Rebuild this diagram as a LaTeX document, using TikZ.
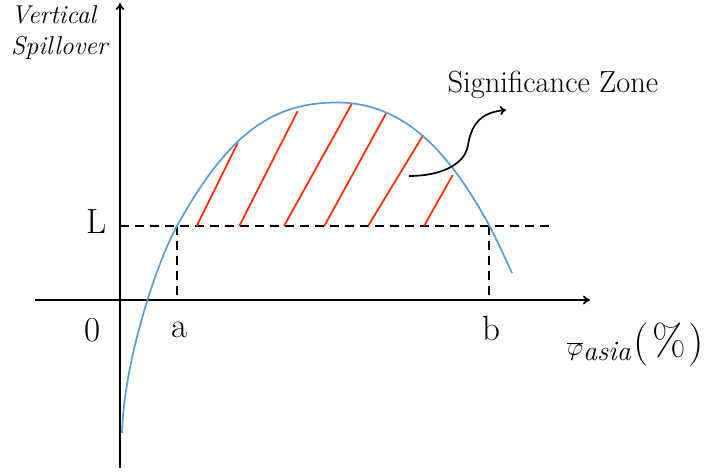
\documentclass[tikz,border=0pt]{standalone}
\usetikzlibrary{arrows.meta}
\definecolor{curveblue}{RGB}{91,155,213}
\definecolor{hatchred}{RGB}{255,40,0}
\begin{document}
\begin{tikzpicture}[x=1pt,y=-1pt,
  axis/.style={line width=1.8pt,-{To[length=7pt,width=9pt]}},
  dashline/.style={line width=1.7pt,dash pattern=on 9pt off 6pt},
  hatch/.style={hatchred,line width=1.7pt},
  lbl/.style={inner sep=0pt,font=\fontsize{35}{38}\selectfont}]
\useasboundingbox (0,0) rectangle (711,472);
% axes
\coordinate (yb) at (120,468);
\coordinate (yt) at (120,3);
\coordinate (xl) at (35,300);
\coordinate (xr) at (590,300);
\draw[axis] (yb) -- (yt);
\draw[axis] (xl) -- (xr);
% L line and drops
\coordinate (L0) at (120,226);
\coordinate (L1) at (550,226);
\coordinate (A1) at (177,226);
\coordinate (A0) at (177,300);
\coordinate (B1) at (489,226);
\coordinate (B0) at (489,300);
\draw[dashline] (L0) -- (L1);
\draw[dashline] (A1) -- (A0);
\draw[dashline] (B1) -- (B0);
% hatch lines
\foreach \xa/\xb/\yb in {196.7/237.7/143, 239.3/297.7/111, 284/351.7/104, 324.3/386/113.5, 368/423.3/135, 424/452.7/175}{
  \draw[hatch] (\xa,226) -- (\xb,\yb);
}
% curve
\coordinate (c0) at (122,433);
\coordinate (c1) at (177,226);
\coordinate (c2) at (337,102.5);
\coordinate (c3) at (490,227);
\coordinate (c4) at (512,273);
\draw[curveblue,line width=1.7pt] (c0) .. controls (124,360) and (157,262) .. (c1)
  .. controls (227,136) and (270,102.5) .. (c2)
  .. controls (405,102.5) and (450,153) .. (c3)
  .. controls (497,240) and (505,258) .. (c4);
% labels
\node[lbl] (Ll) at (97,222) {L};
\node[lbl] (z) at (93,330) {0};
\node[lbl] (a) at (179.5,330) {a};
\node[lbl] (b) at (491,328) {b};
\node[inner sep=0pt,anchor=west,font=\fontsize{25.8}{31}\selectfont\itshape,align=left] (vs) at (11,33) {Vertical\\Spillover};
\node[inner sep=0pt,font=\fontsize{30.5}{32}\selectfont] (sz) at (553,85) {Significance Zone};
\node[inner sep=0pt,anchor=base west,font=\fontsize{43.5}{46}\selectfont] (phi) at (567,355)
  {$\overline{\varphi}$\raisebox{-5pt}{\fontsize{28}{30}\selectfont\itshape asia}\hspace{3pt}(\hspace{3pt}\%\hspace{3pt})};
% curved arrow
\coordinate (cs) at (409,176);
\coordinate (ce) at (506,110);
\draw[line width=1.7pt,-{To[length=6pt,width=9pt]}] (cs) .. controls (440,176) and (465,165) .. (468,145)
  .. controls (472,120) and (485,112) .. (ce);
\end{tikzpicture}
\end{document}
